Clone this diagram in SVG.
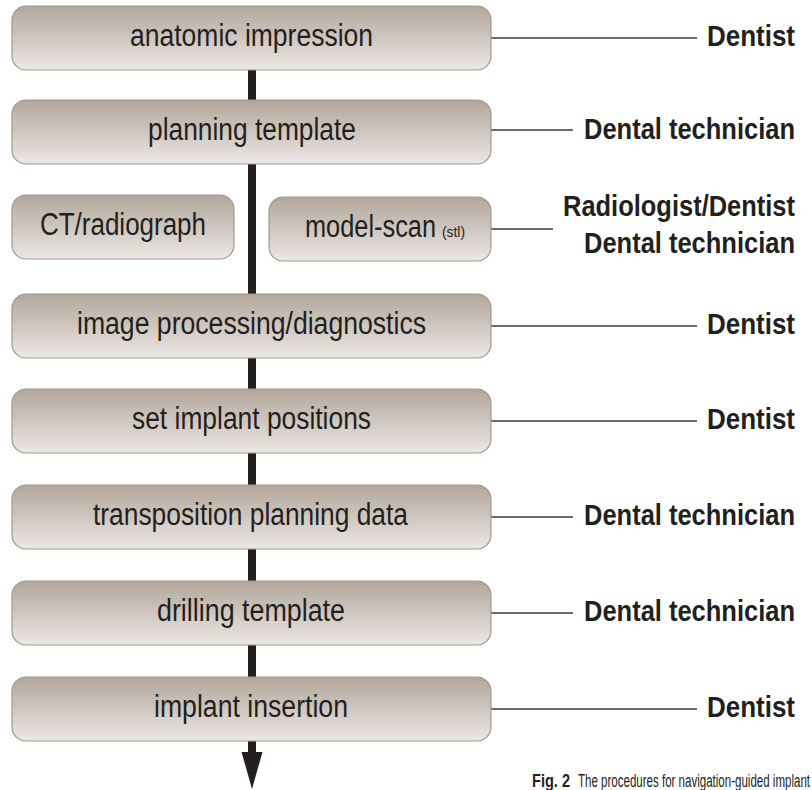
<svg xmlns="http://www.w3.org/2000/svg" width="812" height="790" viewBox="0 0 812 790">
<defs>
<linearGradient id="g" x1="0" y1="0" x2="0" y2="1">
<stop offset="0" stop-color="#b1a69b"/>
<stop offset="1" stop-color="#ece8e4"/>
</linearGradient>
</defs>
<style>
.box{fill:url(#g);stroke:#a3978b;stroke-width:1.2}
.t{font-family:"Liberation Sans Narrow","Liberation Sans",Arial,sans-serif;font-size:31px;fill:#231f20;text-anchor:middle}
.r{font-family:"Liberation Sans Narrow","Liberation Sans",Arial,sans-serif;font-size:29px;font-weight:bold;fill:#231f20;text-anchor:end}
.s{font-family:"Liberation Sans Narrow","Liberation Sans",Arial,sans-serif;fill:#231f20}
.ln{stroke:#3a3a3a;stroke-width:1.4;fill:none}
</style>
<rect width="812" height="790" fill="#ffffff"/>
<g id="connectors">
<rect x="248" y="70" width="8" height="684" fill="#231f20"/>
<polygon points="241.5,752 262.5,752 252,789" fill="#231f20"/>
<line class="ln" x1="491" y1="38" x2="697" y2="38"/>
<line class="ln" x1="491" y1="130" x2="573" y2="130"/>
<line class="ln" x1="491" y1="229" x2="553" y2="229"/>
<line class="ln" x1="491" y1="326" x2="697" y2="326"/>
<line class="ln" x1="491" y1="421" x2="697" y2="421"/>
<line class="ln" x1="491" y1="517" x2="573" y2="517"/>
<line class="ln" x1="491" y1="613" x2="573" y2="613"/>
<line class="ln" x1="491" y1="709" x2="697" y2="709"/>
</g>
<g id="n1"><rect class="box" x="12" y="6" width="479" height="64" rx="14"/><text class="t" x="251.5" y="46" textLength="243" lengthAdjust="spacingAndGlyphs">anatomic impression</text></g>
<g id="n2"><rect class="box" x="12" y="100" width="479" height="64" rx="14"/><text class="t" x="252" y="140" textLength="208" lengthAdjust="spacingAndGlyphs">planning template</text></g>
<g id="n3"><rect class="box" x="12" y="195" width="222" height="64" rx="14"/><text class="t" x="123" y="235" textLength="166" lengthAdjust="spacingAndGlyphs">CT/radiograph</text></g>
<g id="n4"><rect class="box" x="269" y="197" width="222" height="64" rx="14"/><text class="s" x="305" y="237" font-size="31" textLength="131" lengthAdjust="spacingAndGlyphs">model-scan</text><text class="s" x="442" y="237" font-size="14" textLength="23" lengthAdjust="spacingAndGlyphs">(stl)</text></g>
<g id="n5"><rect class="box" x="12" y="294" width="479" height="64" rx="14"/><text class="t" x="251.5" y="334" textLength="349" lengthAdjust="spacingAndGlyphs">image processing/diagnostics</text></g>
<g id="n6"><rect class="box" x="12" y="389" width="479" height="64" rx="14"/><text class="t" x="251.5" y="429" textLength="239" lengthAdjust="spacingAndGlyphs">set implant positions</text></g>
<g id="n7"><rect class="box" x="12" y="485" width="479" height="64" rx="14"/><text class="t" x="250.5" y="525" textLength="315" lengthAdjust="spacingAndGlyphs">transposition planning data</text></g>
<g id="n8"><rect class="box" x="12" y="581" width="479" height="64" rx="14"/><text class="t" x="251" y="621" textLength="188" lengthAdjust="spacingAndGlyphs">drilling template</text></g>
<g id="n9"><rect class="box" x="12" y="677" width="479" height="64" rx="14"/><text class="t" x="251" y="717" textLength="194" lengthAdjust="spacingAndGlyphs">implant insertion</text></g>
<g id="labels">
<text class="r" x="795" y="46" textLength="88" lengthAdjust="spacingAndGlyphs">Dentist</text>
<text class="r" x="795" y="139" textLength="211" lengthAdjust="spacingAndGlyphs">Dental technician</text>
<text class="r" x="795" y="216" textLength="232" lengthAdjust="spacingAndGlyphs">Radiologist/Dentist</text>
<text class="r" x="795" y="253" textLength="211" lengthAdjust="spacingAndGlyphs">Dental technician</text>
<text class="r" x="795" y="334" textLength="88" lengthAdjust="spacingAndGlyphs">Dentist</text>
<text class="r" x="795" y="429" textLength="88" lengthAdjust="spacingAndGlyphs">Dentist</text>
<text class="r" x="795" y="525" textLength="211" lengthAdjust="spacingAndGlyphs">Dental technician</text>
<text class="r" x="795" y="621" textLength="211" lengthAdjust="spacingAndGlyphs">Dental technician</text>
<text class="r" x="795" y="717" textLength="88" lengthAdjust="spacingAndGlyphs">Dentist</text>
</g>
<g id="caption">
<text class="s" x="532" y="787" font-size="18" font-weight="bold" textLength="38" lengthAdjust="spacingAndGlyphs">Fig. 2</text>
<text class="s" x="578" y="787" font-size="18" textLength="232" lengthAdjust="spacingAndGlyphs">The procedures for navigation-guided implant</text>
</g>
</svg>
